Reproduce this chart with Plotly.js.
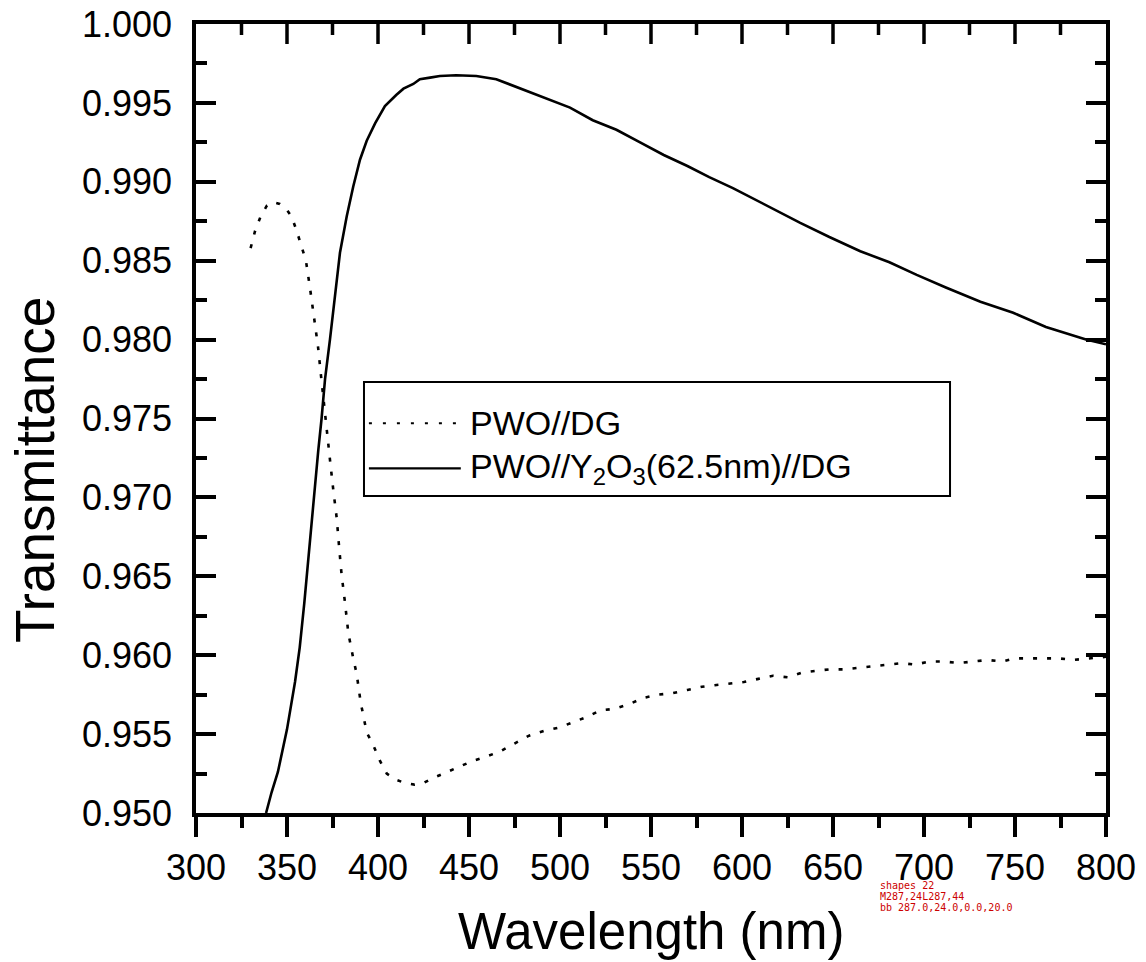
<!DOCTYPE html>
<html>
<head>
<meta charset="utf-8">
<script src="https://cdn.plot.ly/plotly-3.0.1.min.js"></script>
<style>
html,body{margin:0;padding:0;background:#fff;}
#chart{width:1146px;height:962px;}
#dbg{position:absolute;left:880px;top:880px;width:260px;font:10px monospace;color:#c00;white-space:pre-wrap;}
</style>
</head>
<body>
<div id="chart"></div>
<div id="dbg"></div>
<script>
// PWO//DG (dotted)
const wlDG = [330, 332.5, 335.5, 339, 342.5, 346, 349.5, 352.5, 355.3, 358, 360.4, 362.6, 365, 367, 368.7, 371, 373.6, 375.4, 377.3, 378.6, 380, 381.9, 383.7, 386.4, 388.3, 390.5, 393.8, 397.4, 401.1, 404.8, 410, 415, 420, 425, 430, 436, 444, 452, 460, 467, 475, 483, 491, 499, 506, 515, 522, 530, 538, 546, 554, 562, 570, 578, 585, 593, 601, 609, 617, 625, 633, 640, 648, 656, 664, 672, 680, 688, 695, 703, 711, 719, 727, 735, 743, 750, 758, 766, 774, 782, 790, 800];
const tDG = [0.9858, 0.9869, 0.9878, 0.9885, 0.9887, 0.9886, 0.9883, 0.9878, 0.9869, 0.9859, 0.9850, 0.9833, 0.9814, 0.9796, 0.9777, 0.9750, 0.9724, 0.9705, 0.9687, 0.9669, 0.9651, 0.9633, 0.9614, 0.9598, 0.9588, 0.9570, 0.9551, 0.9543, 0.9533, 0.9525, 0.9521, 0.9519, 0.9518, 0.9519, 0.9522, 0.9525, 0.9529, 0.9533, 0.9536, 0.9539, 0.9544, 0.9549, 0.9552, 0.9554, 0.9557, 0.9561, 0.9565, 0.9566, 0.9569, 0.9573, 0.9575, 0.9576, 0.9578, 0.9580, 0.9581, 0.9582, 0.9583, 0.9585, 0.9587, 0.9586, 0.9589, 0.9590, 0.9591, 0.9591, 0.9592, 0.9593, 0.9594, 0.9595, 0.9594, 0.9596, 0.9596, 0.9595, 0.9596, 0.9597, 0.9596, 0.9598, 0.9598, 0.9598, 0.9598, 0.9597, 0.9598, 0.9599];

// PWO//Y2O3(62.5nm)//DG (solid)
const wlY = [338.5, 341.5, 345, 350, 354.4, 357, 359.5, 362, 364.5, 367.2, 369, 370.9, 373.6, 376.4, 379.1, 382.8, 386.4, 390.1, 393.8, 398.4, 403.8, 410, 414, 419.4, 423, 428.6, 434, 443, 454, 465, 474, 483.5, 494.5, 505.5, 518, 531, 544, 557, 570, 582, 595, 610, 632, 648, 665, 681, 696, 712, 731, 749, 767, 789, 800];
const tY = [0.9500, 0.9513, 0.9526, 0.9553, 0.9583, 0.9605, 0.9633, 0.9665, 0.9699, 0.9730, 0.9750, 0.9775, 0.9800, 0.9827, 0.9855, 0.9878, 0.9897, 0.9914, 0.9926, 0.9937, 0.9948, 0.9955, 0.9959, 0.9962, 0.9965, 0.9966, 0.9967, 0.99675, 0.9967, 0.9965, 0.9961, 0.9957, 0.9952, 0.9947, 0.9939, 0.9933, 0.9925, 0.9917, 0.9910, 0.9903, 0.9896, 0.9887, 0.9874, 0.9865, 0.9856, 0.9849, 0.9841, 0.9833, 0.9824, 0.9817, 0.9808, 0.9800, 0.9797];

const seriesNames = ['PWO//DG', 'PWO//Y<sub>2</sub>O<sub>3</sub>(62.5nm)//DG'];
const xTitle = 'Wavelength (nm)';
const yTitle = 'Transmittance';
const xRange = [300, 800];
const yRange = [0.950, 1.000];
const xMajorTicks = [350, 400, 450, 500, 550, 600, 650, 700, 750];
const xMinorTicks = [325, 375, 425, 475, 525, 575, 625, 675, 725, 775];
const yTickVals = [0.950, 0.955, 0.960, 0.965, 0.970, 0.975, 0.980, 0.985, 0.990, 0.995, 1.000];
const yTickText = ['0.950', '0.955', '0.960', '0.965', '0.970', '0.975', '0.980', '0.985', '0.990', '0.995', '1.000'];

const FONT = '"Liberation Sans", Arial, Helvetica, sans-serif';

const traces = [
  {x: wlDG, y: tDG, type: 'scatter', mode: 'lines', name: seriesNames[0],
   line: {color: '#000', width: 2.6, dash: '4px,10px'}, showlegend: false},
  {x: wlY, y: tY, type: 'scatter', mode: 'lines', name: seriesNames[1],
   line: {color: '#000', width: 2.6}, showlegend: false}
];

// legend geometry (paper coords)
const lg = {x0: 0.1846, x1: 0.8286, y0: 0.4018, y1: 0.5463, sx0: 0.190, sx1: 0.291, tx: 0.2989, r1: 0.4939, r2: 0.4369};

// top-edge inward ticks (mirror of the bottom axis), placed on the x scale
function topTick(v, len) {
  return {type: 'line', xref: 'x', yref: 'paper', x0: v, x1: v,
          ysizemode: 'pixel', yanchor: 1, y0: 0, y1: -len,
          line: {color: '#000', width: 3.5}, layer: 'above'};
}
const topTicks = xMajorTicks.map(v => topTick(v, 20)).concat(xMinorTicks.map(v => topTick(v, 11)));

const layout = {
  width: 1146, height: 962,
  margin: {l: 196, r: 40, t: 24, b: 149},
  paper_bgcolor: '#fff', plot_bgcolor: '#fff',
  font: {family: FONT, color: '#000', size: 36},
  showlegend: false,
  xaxis: {
    range: xRange, dtick: 50, tick0: 300,
    ticks: 'outside', ticklen: 20, tickwidth: 3.5, tickcolor: '#000',
    minor: {dtick: 25, ticks: 'outside', ticklen: 11, tickwidth: 3.5, tickcolor: '#000'},
    showline: true, linewidth: 3.5, linecolor: '#000', mirror: true,
    showgrid: false, zeroline: false,
    tickfont: {family: FONT, size: 36, color: '#000'}
  },
  yaxis: {
    range: yRange,
    tickvals: yTickVals, ticktext: yTickText,
    ticks: 'inside', ticklen: 20, tickwidth: 3.5, tickcolor: '#000',
    minor: {dtick: 0.0025, tick0: 0.95, ticks: 'inside', ticklen: 11, tickwidth: 3.5, tickcolor: '#000'},
    showline: true, linewidth: 3.5, linecolor: '#000', mirror: 'ticks',
    showgrid: false, zeroline: false,
    tickfont: {family: FONT, size: 36, color: '#000'},
    ticklabelstandoff: 13
  },
  shapes: topTicks.concat([
    {type: 'rect', xref: 'paper', yref: 'paper', x0: lg.x0, x1: lg.x1, y0: lg.y0, y1: lg.y1,
     line: {color: '#000', width: 2}, fillcolor: 'rgba(0,0,0,0)'},
    {type: 'line', xref: 'paper', yref: 'paper', x0: lg.sx0, x1: lg.sx1, y0: lg.r1, y1: lg.r1,
     line: {color: '#000', width: 2, dash: '3px,11px'}},
    {type: 'line', xref: 'paper', yref: 'paper', x0: lg.sx0, x1: lg.sx1, y0: lg.r2, y1: lg.r2,
     line: {color: '#000', width: 2.2}}
  ]),
  annotations: [
    {text: seriesNames[0], xref: 'paper', yref: 'paper', x: lg.tx, y: lg.r1, xanchor: 'left', yanchor: 'middle',
     showarrow: false, font: {family: FONT, size: 34, color: '#000'}},
    {text: seriesNames[1], xref: 'paper', yref: 'paper', x: lg.tx, y: lg.r2, xanchor: 'left', yanchor: 'middle',
     showarrow: false, font: {family: FONT, size: 34, color: '#000'}},
    {text: xTitle, xref: 'paper', yref: 'paper', x: 0.5, y: -0.1496, xanchor: 'center', yanchor: 'middle',
     showarrow: false, font: {family: FONT, size: 51, color: '#000'}},
    {text: yTitle, xref: 'paper', yref: 'paper', x: -0.177, y: 0.4347, xanchor: 'center', yanchor: 'middle',
     textangle: -90, showarrow: false, font: {family: FONT, size: 55, color: '#000'}}
  ]
};

Plotly.newPlot('chart', traces, layout, {displayModeBar: false}).then(gd => {
  const sp = document.querySelectorAll('.shapelayer path');
  const out = ['shapes ' + sp.length];
  if (sp.length) {
    const r = sp[0].getBoundingClientRect();
    out.push((sp[0].getAttribute('d') || '').slice(0, 40));
    out.push('bb ' + [r.x, r.y, r.width, r.height].map(v => v.toFixed(1)).join(','));
  }
  document.getElementById('dbg').textContent = out.join('\n');
}).catch(e => { document.getElementById('dbg').textContent = 'ERR ' + e; });
</script>
</body>
</html>
